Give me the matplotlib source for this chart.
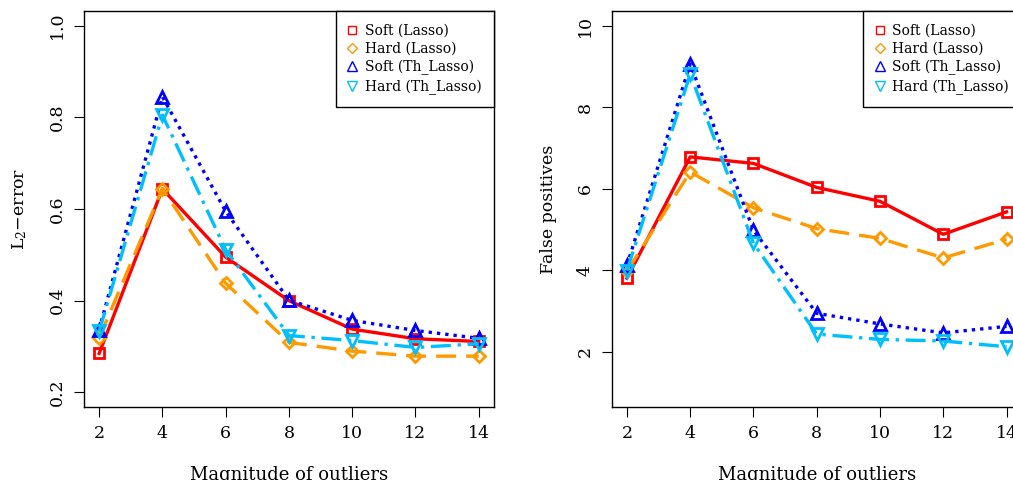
import matplotlib.pyplot as plt
from matplotlib.lines import Line2D

plt.rcParams['font.family'] = ['DejaVu Serif']
plt.rcParams['mathtext.fontset'] = 'dejavuserif'

magnitude = [2, 4, 6, 8, 10, 12, 14]

# L2 error
l2_soft_lasso = [0.285, 0.644, 0.495, 0.400, 0.338, 0.317, 0.311]
l2_hard_lasso = [0.319, 0.644, 0.438, 0.309, 0.290, 0.279, 0.279]
l2_soft_th = [0.337, 0.845, 0.595, 0.401, 0.357, 0.335, 0.318]
l2_hard_th = [0.333, 0.805, 0.511, 0.324, 0.313, 0.298, 0.306]

# false positives
fp_soft_lasso = [3.80, 6.78, 6.62, 6.03, 5.69, 4.88, 5.43]
fp_hard_lasso = [3.97, 6.41, 5.53, 5.02, 4.78, 4.30, 4.76]
fp_soft_th = [4.12, 9.06, 4.98, 2.94, 2.68, 2.46, 2.62]
fp_hard_th = [3.99, 8.81, 4.66, 2.43, 2.30, 2.26, 2.12]

labels = ['Soft (Lasso)', 'Hard (Lasso)', 'Soft (Th_Lasso)', 'Hard (Th_Lasso)']
colors = ['#FF0000', '#FF9900', '#0000FF', '#00BFFF']
markers = ['s', 'D', '^', 'v']
msizes = [6.5, 6.5, 8, 8]
styles = ['-', (0, (6, 3)), (0, (1, 1.5)), (0, (6, 2, 1, 2))]

fig = plt.figure(figsize=(10.13, 4.8), dpi=100)
ax1 = fig.add_axes([0.0829, 0.152, 0.4047, 0.825])
ax2 = fig.add_axes([0.6039, 0.152, 0.4047, 0.825])


def panel(ax, series, ylim, yticks, ylab):
    for vals, c, m, ms, ls in zip(series, colors, markers, msizes, styles):
        ax.plot(magnitude, vals, color=c, linestyle=ls, lw=2.4,
                marker=m, ms=ms, mfc='none', mec=c, mew=2)
    pad = 0.04 * (ylim[1] - ylim[0])
    ax.set_ylim(ylim[0] - pad, ylim[1] + pad)
    ax.set_xlim(2 - 0.48, 14 + 0.48)
    ax.set_xticks(magnitude)
    ax.set_yticks(yticks)
    ax.set_yticklabels([str(t) for t in yticks], rotation=90, va='center')
    ax.tick_params(direction='out', length=7, labelsize=12.5, pad=6)
    ax.set_xlabel('Magnitude of outliers', fontsize=13, labelpad=17)
    ax.set_ylabel(ylab, fontsize=12.5, labelpad=14)
    for s in ax.spines.values():
        s.set_linewidth(1)
    handles = [Line2D([], [], color=c, marker=m, ms=ms - 1, mfc='none',
                      mew=1, linestyle='none')
               for c, m, ms in zip(colors, markers, msizes)]
    ax.legend(handles, labels, loc='upper right', borderaxespad=0,
              fancybox=False, framealpha=1, edgecolor='black',
              fontsize=10, handlelength=0.6, handletextpad=0.6,
              labelspacing=0.3, borderpad=0.9)


panel(ax1, [l2_soft_lasso, l2_hard_lasso, l2_soft_th, l2_hard_th],
      (0.2, 1.0), [0.2, 0.4, 0.6, 0.8, 1.0], 'L$_2$\u2212error')
panel(ax2, [fp_soft_lasso, fp_hard_lasso, fp_soft_th, fp_hard_th],
      (1, 10), [2, 4, 6, 8, 10], 'False positives')

fig.savefig('out.png', dpi=100)
